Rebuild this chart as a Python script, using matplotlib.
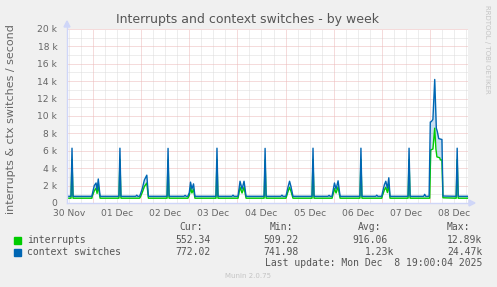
import matplotlib
matplotlib.use("Agg")
import matplotlib.pyplot as plt
import numpy as np

# hours counted from 30 Nov 00:00
ctx_base = 772
int_base = 552

spike_hours = [13.5, 37.4, 61.4, 85.8, 109.8, 133.7, 157.6, 181.6, 205.6]
spike_ctx = [6300, 6300, 6280, 6300, 6280, 6300, 6300, 6300, 6300]
spike_int = [5000, 5000, 4950, 5000, 4950, 5000, 5000, 5000, 5000]

bump_hours = [45.8, 69.9, 93.8, 118.2, 141.7, 165.5, 189.4]
bump_ctx = [900, 880, 900, 900, 880, 900, 1000]

night_hours = [
    [23.4, 23.6, 24.6, 25.5, 26.0, 26.6, 27.5],
    [47.2, 47.6, 48.6, 49.6, 50.8, 51.6],
    [71.3, 72.0, 72.6, 73.3, 74.1, 74.8],
    [96.3, 97.3, 98.3, 99.3, 100.3],
    [120.2, 121.2, 122.0, 122.7, 123.7],
    [143.2, 144.4, 145.2, 146.2, 147.2],
    [168.0, 168.3, 169.3, 170.0, 170.8, 171.5, 172.1],
]
night_ctx = [
    [772, 1000, 2000, 2300, 1500, 2760, 772],
    [772, 1000, 1700, 2650, 3200, 772],
    [772, 1200, 2400, 1600, 2200, 772],
    [772, 2500, 1600, 2500, 772],
    [772, 1800, 2500, 1900, 772],
    [772, 2300, 1600, 2550, 772],
    [772, 1150, 2100, 2500, 1700, 2900, 772],
]
night_int = [
    [552, 800, 1400, 1700, 1100, 2000, 552],
    [552, 700, 1250, 1900, 2300, 552],
    [552, 900, 1750, 1150, 1600, 552],
    [552, 1800, 1150, 1800, 552],
    [552, 1300, 1800, 1350, 552],
    [552, 1650, 1150, 1850, 552],
    [552, 850, 1500, 1800, 1200, 2100, 552],
]

event_ctx_hours = [191.6, 192.2, 192.7, 193.5, 194.4, 195.2, 195.7, 196.4, 198.0, 198.5]
event_ctx = [772, 9300, 9350, 9600, 14200, 8600, 8200, 7400, 7300, 800]
event_int_hours = [191.9, 192.4, 193.5, 194.4, 195.0, 195.5, 196.9, 197.2, 198.0, 198.5]
event_int = [552, 6100, 6200, 8600, 6200, 5300, 5200, 4950, 4950, 600]

day_labels = ["30 Nov", "01 Dec", "02 Dec", "03 Dec", "04 Dec", "05 Dec", "06 Dec", "07 Dec", "08 Dec"]
x_start, x_end = 11.0, 211.0


def build(base, spikes, spike_vals, bumps, bump_vals, nights_h, nights_v, ev_h, ev_v):
    pts = [(x_start, base), (x_end, base)]
    for h, v in zip(spikes, spike_vals):
        pts += [(h - 0.5, base), (h, v), (h + 0.5, base)]
    for h, v in zip(bumps, bump_vals):
        pts += [(h - 0.5, base), (h, v), (h + 0.5, base)]
    for hs, vs in zip(nights_h, nights_v):
        pts += list(zip(hs, vs))
    pts += list(zip(ev_h, ev_v))
    pts.sort()
    return np.array([p[0] for p in pts]), np.array([p[1] for p in pts])


tc, vc = build(ctx_base, spike_hours, spike_ctx, bump_hours, bump_ctx,
               night_hours, night_ctx, event_ctx_hours, event_ctx)
ti, vi = build(int_base, spike_hours, spike_int, [], [],
               night_hours, night_int, event_int_hours, event_int)

W, H = 497, 287
fig = plt.figure(figsize=(W / 100, H / 100), dpi=100, facecolor="#F0F0F0")
L, R, T, B = 67, 468, 29, 203
ax = fig.add_axes([L / W, 1 - B / H, (R - L) / W, (B - T) / H])
ax.set_facecolor("white")
for s in ax.spines.values():
    s.set_visible(False)
ax.set_xlim(x_start, x_end)
ax.set_ylim(0, 20000)

# grid: gray every 1k / 6h, red every 2k / midnight
minor_c, major_c = "#DCDCDC", "#EDB8B8"
for y in np.arange(1000, 20001, 2000):
    ax.axhline(y, color=minor_c, lw=0.72, ls=(0, (1, 1)), zorder=1)
for x in np.arange(12, 211, 6):
    if x % 24:
        ax.axvline(x, color=minor_c, lw=0.72, ls=(0, (1, 1)), zorder=1)
for y in np.arange(2000, 20001, 2000):
    ax.axhline(y, color=major_c, lw=0.72, ls=(0, (1, 1)), zorder=2)
for x in np.arange(24, 211, 24):
    ax.axvline(x, color=major_c, lw=0.72, ls=(0, (1, 1)), zorder=2)

vi_on_tc = np.interp(tc, ti, vi)
ax.fill_between(tc, vi_on_tc, vc, where=vc > vi_on_tc, color="#4F9AD6", alpha=0.3, lw=0, zorder=3)
ax.plot(ti, vi, color="#00CC00", lw=1.0, zorder=4)
ax.plot(tc, vc, color="#0066B3", lw=1.0, zorder=5)

fc = "#666666"
ax.set_yticks(np.arange(0, 20001, 2000))
ax.set_yticklabels(["0"] + ["%d k" % (v // 1000) for v in range(2000, 20001, 2000)])
ax.set_xticks(np.arange(12, 211, 24))
ax.set_xticklabels(day_labels)
ax.tick_params(length=0, labelsize=6.6, labelcolor=fc, pad=7)
ax.tick_params(axis="x", pad=4)

# axes with arrows
axc = "#CFD6F8"
fig.add_artist(plt.Line2D([L / W, L / W], [1 - B / H, 1 - 24 / H], color=axc, lw=1))
fig.add_artist(plt.Line2D([L / W, 470 / W], [1 - B / H, 1 - B / H], color=axc, lw=1))
fig.add_artist(plt.Polygon([[(L - 3) / W, 1 - 27 / H], [(L + 3) / W, 1 - 27 / H], [L / W, 1 - 21 / H]],
                           closed=True, color=axc, transform=fig.transFigure))
fig.add_artist(plt.Polygon([[469 / W, 1 - 200 / H], [469 / W, 1 - 206 / H], [475 / W, 1 - B / H]],
                           closed=True, color=axc, transform=fig.transFigure))

fig.text(248 / W, 1 - 19 / H, "Interrupts and context switches - by week",
         ha="center", va="center", fontsize=9, color="#555555")
fig.text(11 / W, 1 - 119 / H, "interrupts & ctx switches / second", rotation=90,
         ha="center", va="center", fontsize=8, color=fc)
fig.text(487 / W, 1 - 5 / H, "RRDTOOL / TOBI OETIKER", rotation=270,
         ha="center", va="top", fontsize=5, color="#C4C4C4")

mono = "DejaVu Sans Mono"
lc = "#555555"
for x, t in [(203.3, "Cur:"), (292.7, "Min:"), (381, "Avg:"), (470, "Max:")]:
    fig.text(x / W, 1 - 227.3 / H, t, ha="right", va="center", family=mono, fontsize=7, color=lc)

rows = [
    ("interrupts", "#00CC00", 240, [(210.7, "552.34"), (299, "509.22"), (387.7, "916.06"), (482.3, "12.89k")]),
    ("context switches", "#0066B3", 252, [(210.7, "772.02"), (299, "741.98"), (394.3, "1.23k"), (482.3, "24.47k")]),
]
for name, col, y, vals in rows:
    fig.add_artist(plt.Rectangle((14 / W, 1 - (y + 3.5) / H), 6.5 / W, 6.5 / H, color=col,
                                 transform=fig.transFigure))
    fig.text(26.7 / W, 1 - y / H, name, ha="left", va="center", family=mono, fontsize=7, color=lc)
    for x, t in vals:
        fig.text(x / W, 1 - y / H, t, ha="right", va="center", family=mono, fontsize=7, color=lc)

fig.text(482.3 / W, 1 - 263.3 / H, "Last update: Mon Dec  8 19:00:04 2025", ha="right", va="center",
         family=mono, fontsize=7, color=lc)
fig.text(248 / W, 1 - 276 / H, "Munin 2.0.75", ha="center", va="center", fontsize=5, color="#C4C4C4")

fig.savefig("out.png", dpi=100, facecolor=fig.get_facecolor())
